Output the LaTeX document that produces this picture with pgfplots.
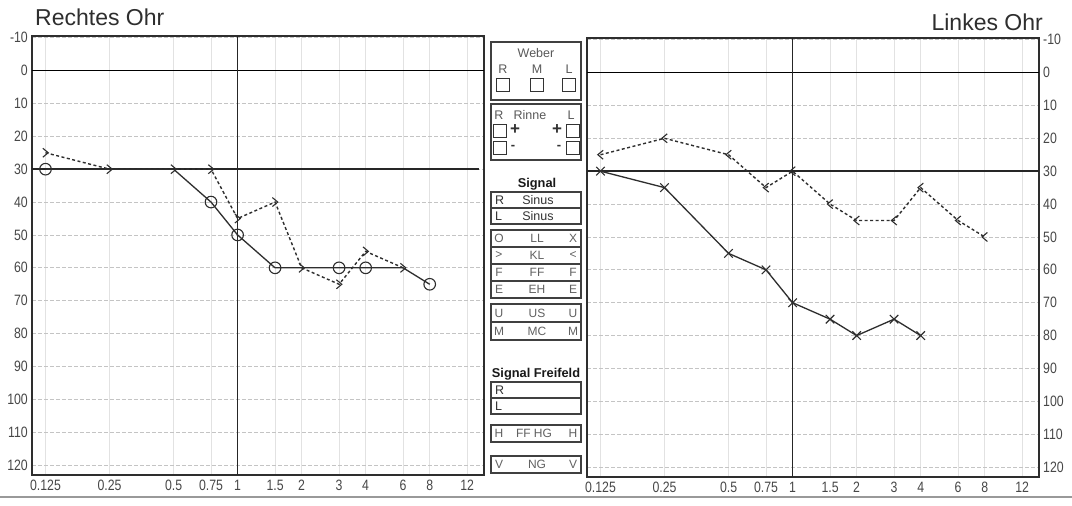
\documentclass[border=0pt]{standalone}
\usepackage{fontspec}
\setmainfont{Liberation Sans}
\newfontfamily\tickfont[FakeStretch=0.82]{Liberation Sans}
\usepackage{pgfplots}
\pgfplotsset{compat=1.18}

\definecolor{ink}{HTML}{2E2E2E}
\definecolor{gridc}{HTML}{C4C4C4}
\definecolor{vgrid}{HTML}{E2E2E2}

% bone conduction marks: > for right ear, < for left ear
\pgfdeclareplotmark{bcR}{%
  \pgfpathmoveto{\pgfqpoint{-0.6\pgfplotmarksize}{\pgfplotmarksize}}%
  \pgfpathlineto{\pgfqpoint{0.6\pgfplotmarksize}{0pt}}%
  \pgfpathlineto{\pgfqpoint{-0.6\pgfplotmarksize}{-\pgfplotmarksize}}%
  \pgfusepathqstroke}
\pgfdeclareplotmark{bcL}{%
  \pgfpathmoveto{\pgfqpoint{0.6\pgfplotmarksize}{\pgfplotmarksize}}%
  \pgfpathlineto{\pgfqpoint{-0.6\pgfplotmarksize}{0pt}}%
  \pgfpathlineto{\pgfqpoint{0.6\pgfplotmarksize}{-\pgfplotmarksize}}%
  \pgfusepathqstroke}

\pgfplotsset{
  every axis x grid/.append style={vgrid, line width=0.7pt},
  every axis y grid/.append style={gridc, dash pattern=on 4pt off 2pt, line width=0.8pt},
}

\begin{document}
\begin{tikzpicture}
\path[use as bounding box, fill=white] (0,0) rectangle (1072pt,506pt);

% ---------- Rechtes Ohr ----------
\begin{axis}[at={(32pt,31pt)}, anchor=south west,
    scale only axis, width=452pt, height=439pt,
    xmode=log, log basis x=2, xmin=0.108, xmax=14.4,
    y dir=reverse, ymin=-10.5, ymax=123,
    xtick={0.125,0.25,0.5,0.75,1,1.5,2,3,4,6,8,12},
    xticklabels={0.125,0.25,0.5,0.75,1,1.5,2,3,4,6,8,12},
    ytick={-10,0,10,20,30,40,50,60,70,80,90,100,110,120},
    yticklabels={-10,0,10,20,30,40,50,60,70,80,90,100,110,120},
    major tick length=0pt,
    xmajorgrids, ymajorgrids,
    axis line style={ink, line width=1.3pt},
    tick label style={font=\tickfont\fontsize{15}{15}\selectfont, text=black!72},
    xticklabel style={anchor=north, inner sep=0pt, yshift=-5pt},
    yticklabel style={anchor=east, inner sep=0pt, xshift=-4pt}]
\addplot[black, line width=1.2pt] coordinates {(0.108,0) (14.4,0)};
\addplot[black!85, line width=1.1pt] coordinates {(1,-10.5) (1,123)};
\addplot[black!85, line width=2.4pt] coordinates {(0.108,30) (13.7,30)};
\addplot[ink, line width=1.3pt] coordinates {
  (0.125,30) (0.25,30) (0.5,30) (0.75,40) (1,50) (1.5,60)
  (2,60) (3,60) (4,60) (6,60) (8,65)};
\addplot[ink, line width=1.4pt, dash pattern=on 3pt off 2.5pt,
  mark=bcR, mark size=4.5pt, mark options={solid, line width=1.1pt}] coordinates {
  (0.125,25) (0.25,30) (0.5,30) (0.75,30) (1,45) (1.5,40)
  (2,60) (3,65) (4,55) (6,60)};
\addplot[only marks, mark=o, mark size=5.8pt,
  mark options={ink, fill=white, line width=1.1pt}] coordinates {
  (0.125,30) (0.75,40) (1,50) (1.5,60) (3,60) (4,60) (8,65)};
\end{axis}

% ---------- Linkes Ohr ----------
\begin{axis}[at={(587pt,29pt)}, anchor=south west,
    scale only axis, width=452pt, height=439pt,
    xmode=log, log basis x=2, xmin=0.108, xmax=14.4,
    y dir=reverse, ymin=-10.5, ymax=123,
    xtick={0.125,0.25,0.5,0.75,1,1.5,2,3,4,6,8,12},
    xticklabels={0.125,0.25,0.5,0.75,1,1.5,2,3,4,6,8,12},
    ytick={-10,0,10,20,30,40,50,60,70,80,90,100,110,120},
    yticklabels={-10,0,10,20,30,40,50,60,70,80,90,100,110,120},
    major tick length=0pt,
    xmajorgrids, ymajorgrids,
    axis line style={ink, line width=1.3pt},
    tick label style={font=\tickfont\fontsize{15}{15}\selectfont, text=black!72},
    xticklabel style={anchor=north, inner sep=0pt, yshift=-5pt},
    yticklabel pos=right,
    yticklabel style={anchor=west, inner sep=0pt, xshift=4pt}]
\addplot[black, line width=1.2pt] coordinates {(0.108,0) (14.4,0)};
\addplot[black!85, line width=1.1pt] coordinates {(1,-10.5) (1,123)};
\addplot[black!85, line width=2.4pt] coordinates {(0.108,30) (14.4,30)};
\addplot[ink, line width=1.3pt, mark=x, mark size=6pt, mark options={line width=1.1pt}] coordinates {
  (0.125,30) (0.25,35) (0.5,55) (0.75,60) (1,70) (1.5,75)
  (2,80) (3,75) (4,80)};
\addplot[ink, line width=1.4pt, dash pattern=on 3pt off 2.5pt,
  mark=bcL, mark size=4.5pt, mark options={solid, line width=1.1pt}] coordinates {
  (0.125,25) (0.25,20) (0.5,25) (0.75,35) (1,30) (1.5,40)
  (2,45) (3,45) (4,35) (6,45) (8,50)};
\end{axis}

% ---------- titles and middle panel (pixel coordinates, y downwards) ----------
\begin{scope}[x=1pt, y=-1pt, yshift=506pt]
\node[anchor=west, inner sep=0pt, text=ink, font=\fontsize{23}{23}\selectfont] at (35,17) {Rechtes Ohr};
\node[anchor=east, inner sep=0pt, text=ink, font=\fontsize{23}{23}\selectfont] at (1043,22) {Linkes Ohr};

\draw[black!40, line width=2.5pt] (0,497) -- (1072,497);

\tikzset{box/.style={draw=black!75, line width=1.2pt},
  pt/.style={inner sep=0pt, text=black!80, font=\fontsize{12.5}{12.5}\selectfont},
  lt/.style={inner sep=0pt, text=black!62, font=\fontsize{12}{12}\selectfont},
  bt/.style={inner sep=0pt, text=black!90, font=\bfseries\fontsize{12.8}{12.8}\selectfont},
  sq/.style={draw=black!80, line width=0.9pt}}

% Weber
\draw[box] (491,42) rectangle (581,100);
\node[pt, text=black!65] at (536,53) {Weber};
\node[pt, text=black!65] at (503,69) {R};
\node[pt, text=black!65] at (537,69) {M};
\node[pt, text=black!65] at (569,69) {L};
\foreach \cx in {503,537,569} \draw[sq] (\cx-6.5,78) rectangle (\cx+6.5,91);

% Rinne
\draw[box] (491,104) rectangle (581,160);
\node[pt, text=black!65] at (499,115) {R};
\node[pt, text=black!65] at (530,115) {Rinne};
\node[pt, text=black!65] at (571,115) {L};
\draw[sq] (493,124) rectangle (506,137);
\draw[sq] (566,124) rectangle (579,137);
\draw[sq] (493,141) rectangle (506,154);
\draw[sq] (566,141) rectangle (579,154);
\node[pt, font=\bfseries\fontsize{17}{17}\selectfont] at (515,130) {+};
\node[pt, font=\bfseries\fontsize{17}{17}\selectfont] at (557,130) {+};
\node[pt, font=\bfseries\fontsize{13}{13}\selectfont] at (513,147) {-};
\node[pt, font=\bfseries\fontsize{13}{13}\selectfont] at (559,147) {-};

% Signal
\node[bt] at (537,184) {Signal};
\draw[box] (491,192) rectangle (581,224);
\draw[box] (491,208) -- (581,208);
\node[pt, anchor=west] at (495,200) {R};
\node[pt] at (538,200) {Sinus};
\node[pt, anchor=west] at (495,216) {L};
\node[pt] at (538,216) {Sinus};

% transducer legend
\draw[box] (491,230) rectangle (581,298);
\foreach \yy in {247,264,281} \draw[box] (491,\yy) -- (581,\yy);
\foreach \yc/\a/\b/\c in {238.5/O/LL/X, 255.5/>/KL/<, 272.5/F/FF/F, 289.5/E/EH/E} {
  \node[lt] at (499,\yc) {\a};
  \node[lt] at (537,\yc) {\b};
  \node[lt] at (573,\yc) {\c};
}
\draw[box] (491,304) rectangle (581,340);
\draw[box] (491,322) -- (581,322);
\foreach \yc/\a/\b/\c in {313/U/US/U, 331/M/MC/M} {
  \node[lt] at (499,\yc) {\a};
  \node[lt] at (537,\yc) {\b};
  \node[lt] at (573,\yc) {\c};
}

% Signal Freifeld
\node[bt] at (536,374) {Signal Freifeld};
\draw[box] (491,382) rectangle (581,414);
\draw[box] (491,398) -- (581,398);
\node[pt, anchor=west] at (495,390) {R};
\node[pt, anchor=west] at (495,406) {L};

\draw[box] (491,425) rectangle (581,442);
\node[lt] at (499,433.5) {H};
\node[lt] at (534,433.5) {FF HG};
\node[lt] at (573,433.5) {H};

\draw[box] (491,456) rectangle (581,473);
\node[lt] at (499,464.5) {V};
\node[lt] at (537,464.5) {NG};
\node[lt] at (573,464.5) {V};
\end{scope}
\end{tikzpicture}
\end{document}
